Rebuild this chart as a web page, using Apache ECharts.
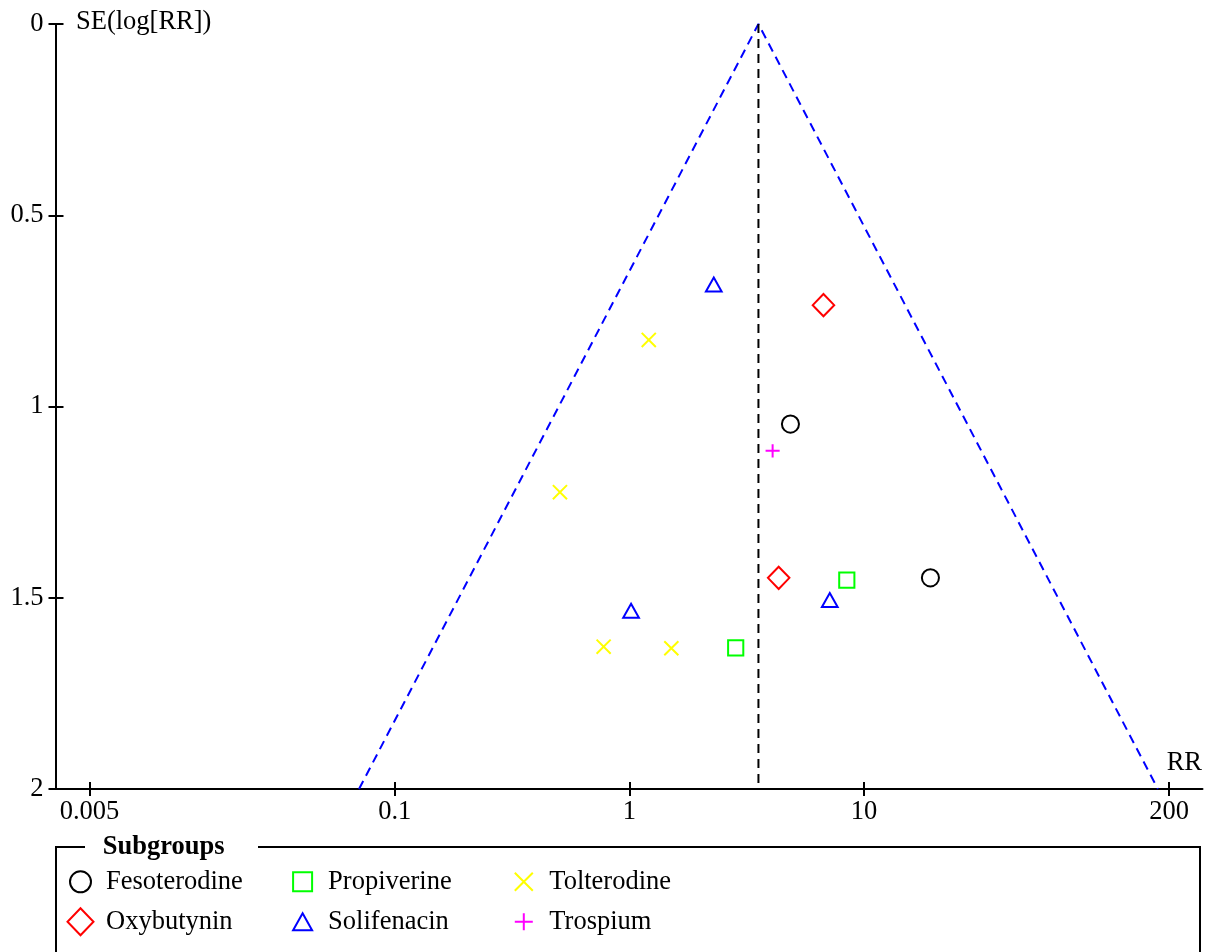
<!DOCTYPE html>
<html>
<head>
<meta charset="utf-8">
<script src="https://cdn.jsdelivr.net/npm/echarts@6/dist/echarts.min.js"></script>
<style>
  html, body { margin: 0; padding: 0; background: #ffffff; }
  #chart { width: 1214px; height: 952px; }
</style>
</head>
<body>
<div id="chart"></div>
<script>
// Study estimates: risk ratio (RR) and standard error of log(RR), grouped by drug
const fesoterodineRR = [4.86, 19.2];
const fesoterodineSE = [1.046, 1.448];
const oxybutyninRR = [6.72, 4.33];
const oxybutyninSE = [0.735, 1.448];
const propiverineRR = [8.45, 2.84];
const propiverineSE = [1.454, 1.631];
const solifenacinRR = [2.29, 1.017, 7.15];
const solifenacinSE = [0.681, 1.534, 1.506];
const tolterodineRR = [1.21, 0.506, 0.777, 1.51];
const tolterodineSE = [0.826, 1.224, 1.628, 1.632];
const trospiumRR = [4.08];
const trospiumSE = [1.116];

// Pooled estimate and funnel limits (95% pseudo confidence region)
const pooledRR = 3.55;
const seBottom = 2;
const zValue = 1.96;

// Axis ticks
const xTickValues = [0.005, 0.1, 1, 10, 200];
const xTickLabels = ['0.005', '0.1', '1', '10', '200'];
const yTickLabels = ['0', '0.5', '1', '1.5', '2'];

const lg = Math.log10;
const FONT = '"Liberation Serif", "Times New Roman", serif';
const FONT_SIZE = 26.5;

// Hollow marker outlines on a common 30x30 frame so legend and plot share geometry
const FRAME = 'M0 0M30 30';
const icons = {
  circle: 'path://' + FRAME + 'M25.5 15A10.5 10.5 0 1 1 4.5 15A10.5 10.5 0 1 1 25.5 15Z',
  square: 'path://' + FRAME + 'M5.5 5.5L24.5 5.5L24.5 24.5L5.5 24.5Z',
  diamond: 'path://' + FRAME + 'M15 1.5L28 15L15 28.5L2 15Z',
  triangle: 'path://' + FRAME + 'M15 6.5L24.5 23.5L5.5 23.5Z',
  cross: 'path://' + FRAME + 'M6 6L24 24M24 6L6 24',
  plus: 'path://' + FRAME + 'M6 15L24 15M15 6.5L15 23.5'
};

const groups = [
  { name: 'Fesoterodine', rr: fesoterodineRR, se: fesoterodineSE, color: '#000000', icon: icons.circle, size: 24.4 },
  { name: 'Oxybutynin', rr: oxybutyninRR, se: oxybutyninSE, color: '#ff0000', icon: icons.diamond, size: 24.8 },
  { name: 'Propiverine', rr: propiverineRR, se: propiverineSE, color: '#00ff00', icon: icons.square, size: 24 },
  { name: 'Solifenacin', rr: solifenacinRR, se: solifenacinSE, color: '#0000ff', icon: icons.triangle, size: 24.8 },
  { name: 'Tolterodine', rr: tolterodineRR, se: tolterodineSE, color: '#ffff00', icon: icons.cross, size: 23.5 },
  { name: 'Trospium', rr: trospiumRR, se: trospiumSE, color: '#ff00ff', icon: icons.plus, size: 23.5 }
];

// Legend columns, each holding two entries stacked vertically
const legendColumns = [
  ['Fesoterodine', 'Oxybutynin'],
  ['Propiverine', 'Solifenacin'],
  ['Tolterodine', 'Trospium']
];
const legendColumnLeft = [64.5, 286.6, 507.8];

const scatterSeries = groups.map(g => ({
  name: g.name,
  type: 'scatter',
  symbol: g.icon,
  symbolSize: g.size,
  data: g.rr.map((v, i) => [lg(v), g.se[i]]),
  itemStyle: { color: 'rgba(0,0,0,0)', borderColor: g.color, borderWidth: 2, opacity: 1 },
  emphasis: { disabled: true },
  z: 5
}));

// Funnel limits: log(RR) +/- z * SE, from the bottom-left corner through the apex
const lnPooled = Math.log(pooledRR);
const funnelData = [
  [lg(Math.exp(lnPooled - zValue * seBottom)), seBottom],
  [lg(pooledRR), 0],
  [lg(Math.exp(lnPooled + zValue * seBottom)), seBottom]
];

const tickFormatter = v => {
  let best = 0;
  xTickValues.forEach((t, i) => {
    if (Math.abs(lg(t) - v) < Math.abs(lg(xTickValues[best]) - v)) best = i;
  });
  return xTickLabels[best];
};

const xMin = -2.446, xMax = 2.443;
const axisLabelStyle = { fontFamily: FONT, fontSize: FONT_SIZE, color: '#000000' };

const chart = echarts.init(document.getElementById('chart'), null, { renderer: 'canvas' });

chart.setOption({
  animation: false,
  backgroundColor: '#ffffff',
  grid: { left: 55.5, right: 11.5, top: 24, bottom: 163, containLabel: false },
  xAxis: [
    {
      type: 'value', position: 'bottom', min: xMin, max: xMax,
      axisLine: { show: true, onZero: false, lineStyle: { color: '#000000', width: 2 } },
      axisTick: { show: true, inside: false, length: 7, lineStyle: { color: '#000000', width: 2 },
        customValues: xTickValues.map(lg) },
      axisLabel: Object.assign({ show: true, margin: 10, customValues: xTickValues.map(lg), formatter: tickFormatter }, axisLabelStyle),
      splitLine: { show: false }
    },
    {
      type: 'value', position: 'bottom', min: xMin, max: xMax,
      axisLine: { show: false, onZero: false },
      axisTick: { show: true, inside: true, length: 7, lineStyle: { color: '#000000', width: 2 },
        customValues: xTickValues.map(lg) },
      axisLabel: { show: false },
      splitLine: { show: false }
    }
  ],
  yAxis: [
    {
      type: 'value', position: 'left', inverse: true, min: 0, max: 2, interval: 0.5,
      axisLine: { show: true, onZero: false, lineStyle: { color: '#000000', width: 2 } },
      axisTick: { show: true, inside: false, length: 7, lineStyle: { color: '#000000', width: 2 } },
      axisLabel: Object.assign({ show: true, margin: 12,
        formatter: v => yTickLabels[Math.round(v / 0.5)] }, axisLabelStyle),
      splitLine: { show: false }
    },
    {
      type: 'value', position: 'left', inverse: true, min: 0, max: 2, interval: 0.5,
      axisLine: { show: false, onZero: false },
      axisTick: { show: true, inside: true, length: 8, lineStyle: { color: '#000000', width: 2 } },
      axisLabel: { show: false },
      splitLine: { show: false }
    }
  ],
  legend: legendColumns.map((names, c) => ({
    orient: 'vertical',
    left: legendColumnLeft[c],
    top: 865.8,
    padding: 0,
    itemWidth: 41,
    itemHeight: 30,
    itemGap: 8,
    symbolKeepAspect: true,
    selectedMode: false,
    textStyle: { fontFamily: FONT, fontSize: FONT_SIZE, color: '#000000' },
    data: names.map(name => ({ name: name, icon: groups.find(g => g.name === name).icon }))
  })),
  series: [
    {
      name: 'funnel limits',
      type: 'line',
      data: funnelData,
      symbol: 'none',
      silent: true,
      lineStyle: { color: '#0000ff', width: 2, type: [9, 6] },
      z: 2
    },
    {
      name: 'pooled estimate',
      type: 'line',
      data: [[lg(pooledRR), 0], [lg(pooledRR), seBottom]],
      symbol: 'none',
      silent: true,
      lineStyle: { color: '#000000', width: 2, type: [9, 6] },
      z: 3
    }
  ].concat(scatterSeries),
  graphic: [
    {
      type: 'text', left: 76, top: 8.5,
      style: { text: 'SE(log[RR])', font: FONT_SIZE + 'px ' + FONT, fill: '#000000' }
    },
    {
      type: 'text', right: 12, top: 749.5,
      style: { text: 'RR', font: FONT_SIZE + 'px ' + FONT, fill: '#000000' }
    },
    {
      type: 'polyline',
      shape: { points: [[85, 847], [56, 847], [56, 960]] },
      style: { stroke: '#000000', lineWidth: 2, fill: null }
    },
    {
      type: 'polyline',
      shape: { points: [[258, 847], [1200, 847], [1200, 960]] },
      style: { stroke: '#000000', lineWidth: 2, fill: null }
    },
    {
      type: 'text', left: 102.7, top: 833.5,
      style: { text: 'Subgroups', font: 'bold ' + FONT_SIZE + 'px ' + FONT, fill: '#000000' }
    }
  ]
});
</script>
</body>
</html>
